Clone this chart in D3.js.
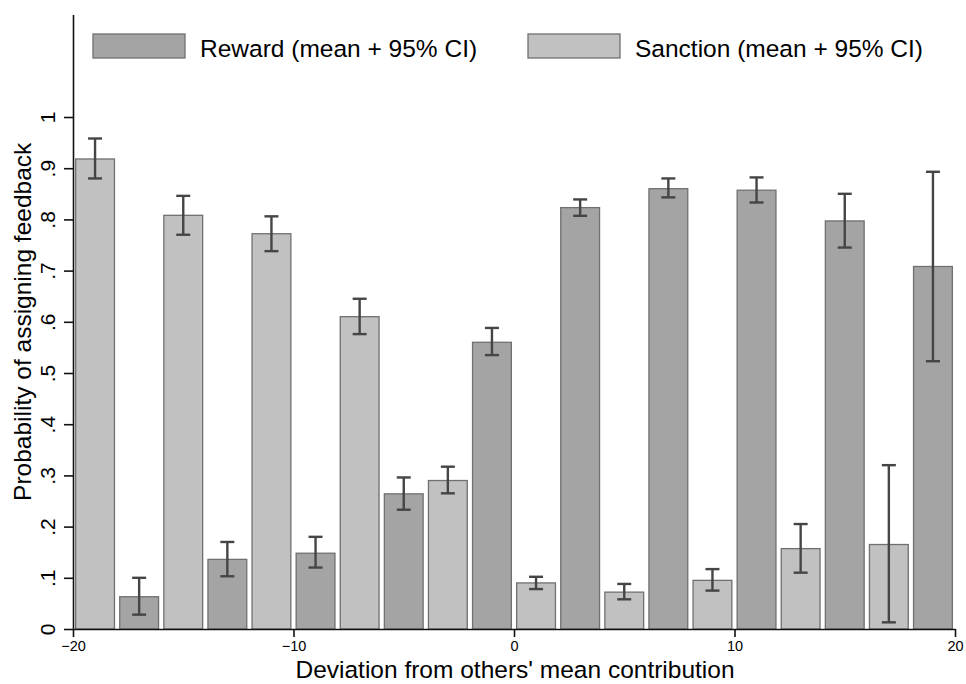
<!DOCTYPE html>
<html>
<head>
<meta charset="utf-8">
<script src="https://cdn.jsdelivr.net/npm/d3@7"></script>
<style>
  html, body { margin: 0; padding: 0; background: #fff; }
  svg { display: block; font-family: "Liberation Sans", Arial, Helvetica, sans-serif; }
</style>
</head>
<body>
<svg id="chart" width="966" height="684"></svg>
<script>
// Deviation bins (bar centres) for each feedback type
const sanctionX = [-19, -15, -11, -7, -3, 1, 5, 9, 13, 17];
const sanctionMean = [0.918, 0.808, 0.772, 0.610, 0.290, 0.090, 0.072, 0.095, 0.157, 0.165];
const sanctionLo = [0.880, 0.770, 0.738, 0.576, 0.265, 0.078, 0.058, 0.075, 0.110, 0.013];
const sanctionHi = [0.958, 0.846, 0.806, 0.645, 0.317, 0.102, 0.088, 0.117, 0.205, 0.320];

const rewardX = [-17, -13, -9, -5, -1, 3, 7, 11, 15, 19];
const rewardMean = [0.063, 0.136, 0.148, 0.264, 0.560, 0.823, 0.860, 0.857, 0.797, 0.708];
const rewardLo = [0.028, 0.103, 0.120, 0.233, 0.535, 0.807, 0.843, 0.833, 0.745, 0.523];
const rewardHi = [0.100, 0.170, 0.180, 0.296, 0.588, 0.839, 0.880, 0.882, 0.850, 0.893];

const xTicks = [-20, -10, 0, 10, 20];
const yTicks = [0, 0.1, 0.2, 0.3, 0.4, 0.5, 0.6, 0.7, 0.8, 0.9, 1];
const yTickLabels = ["0", ".1", ".2", ".3", ".4", ".5", ".6", ".7", ".8", ".9", "1"];

const seriesNames = ["Reward (mean + 95% CI)", "Sanction (mean + 95% CI)"];

const rewardFill = "#a4a4a4";
const sanctionFill = "#c1c1c1";
const barStroke = "#707070";
const ciStroke = "#454545";

const svg = d3.select("#chart");

const x = d3.scaleLinear().domain([-20, 20]).range([73, 955]);
const y = d3.scaleLinear().domain([0, 1.2]).range([629, 14.6]);
const barW = 1.76;

const plot = svg.append("g");

function drawSeries(xs, means, los, his, fill) {
  const data = xs.map((v, i) => ({ x: v, m: means[i], lo: los[i], hi: his[i] }));
  plot.selectAll(null).data(data).enter().append("rect")
    .attr("x", d => x(d.x - barW / 2))
    .attr("width", d => x(d.x + barW / 2) - x(d.x - barW / 2))
    .attr("y", d => y(d.m))
    .attr("height", d => y(0) - y(d.m))
    .attr("fill", fill)
    .attr("stroke", barStroke)
    .attr("stroke-width", 1.3);
  return data;
}

const sData = drawSeries(sanctionX, sanctionMean, sanctionLo, sanctionHi, sanctionFill);
const rData = drawSeries(rewardX, rewardMean, rewardLo, rewardHi, rewardFill);

// Confidence-interval whiskers drawn on top of the bars
const cap = 7;
const ci = plot.append("g")
  .attr("stroke", ciStroke)
  .attr("stroke-width", 2.4)
  .attr("fill", "none");
sData.concat(rData).forEach(d => {
  const cx = x(d.x);
  ci.append("line").attr("x1", cx).attr("x2", cx).attr("y1", y(d.lo)).attr("y2", y(d.hi));
  ci.append("line").attr("x1", cx - cap).attr("x2", cx + cap).attr("y1", y(d.lo)).attr("y2", y(d.lo));
  ci.append("line").attr("x1", cx - cap).attr("x2", cx + cap).attr("y1", y(d.hi)).attr("y2", y(d.hi));
});

// Axes
const yAxis = svg.append("g")
  .attr("transform", `translate(${x(-20)},0)`)
  .call(d3.axisLeft(y).tickValues(yTicks).tickFormat((d, i) => yTickLabels[i]).tickSize(9).tickSizeOuter(0));
yAxis.select(".domain").attr("stroke", "#111").attr("stroke-width", 1.6);
yAxis.selectAll(".tick line").attr("stroke", "#111").attr("stroke-width", 1.6);
yAxis.selectAll(".tick text")
  .style("font-size", "21px")
  .attr("fill", "#000")
  .attr("text-anchor", "middle")
  .attr("x", 0)
  .attr("y", 0)
  .attr("dy", "0.36em")
  .attr("transform", "translate(-26,0) rotate(-90)");

const xAxis = svg.append("g")
  .attr("transform", `translate(0,${y(0)})`)
  .call(d3.axisBottom(x).tickValues(xTicks).tickFormat(d3.format("d")).tickSize(8).tickSizeOuter(0));
xAxis.select(".domain").attr("stroke", "#111").attr("stroke-width", 1.6);
xAxis.selectAll(".tick line").attr("stroke", "#111").attr("stroke-width", 1.6);
xAxis.selectAll(".tick text")
  .style("font-size", "14.5px")
  .attr("fill", "#000")
  .attr("y", 12);

// Axis titles
svg.append("text")
  .attr("x", 515).attr("y", 678)
  .attr("text-anchor", "middle")
  .style("font-size", "24.5px")
  .attr("fill", "#000")
  .text("Deviation from others' mean contribution");

svg.append("text")
  .attr("transform", `translate(31,${y(0.6)}) rotate(-90)`)
  .attr("text-anchor", "middle")
  .style("font-size", "24.5px")
  .attr("fill", "#000")
  .text("Probability of assigning feedback");

// Legend
const legend = svg.append("g");
const legendItems = [
  { name: seriesNames[0], fill: rewardFill, x0: 93 },
  { name: seriesNames[1], fill: sanctionFill, x0: 528 }
];
legendItems.forEach(it => {
  legend.append("rect")
    .attr("x", it.x0).attr("y", 34).attr("width", 92).attr("height", 24)
    .attr("fill", it.fill).attr("stroke", barStroke).attr("stroke-width", 1.3);
  legend.append("text")
    .attr("x", it.x0 + 107).attr("y", 56.5)
    .style("font-size", "24.5px")
    .attr("fill", "#000")
    .text(it.name);
});
</script>
</body>
</html>
